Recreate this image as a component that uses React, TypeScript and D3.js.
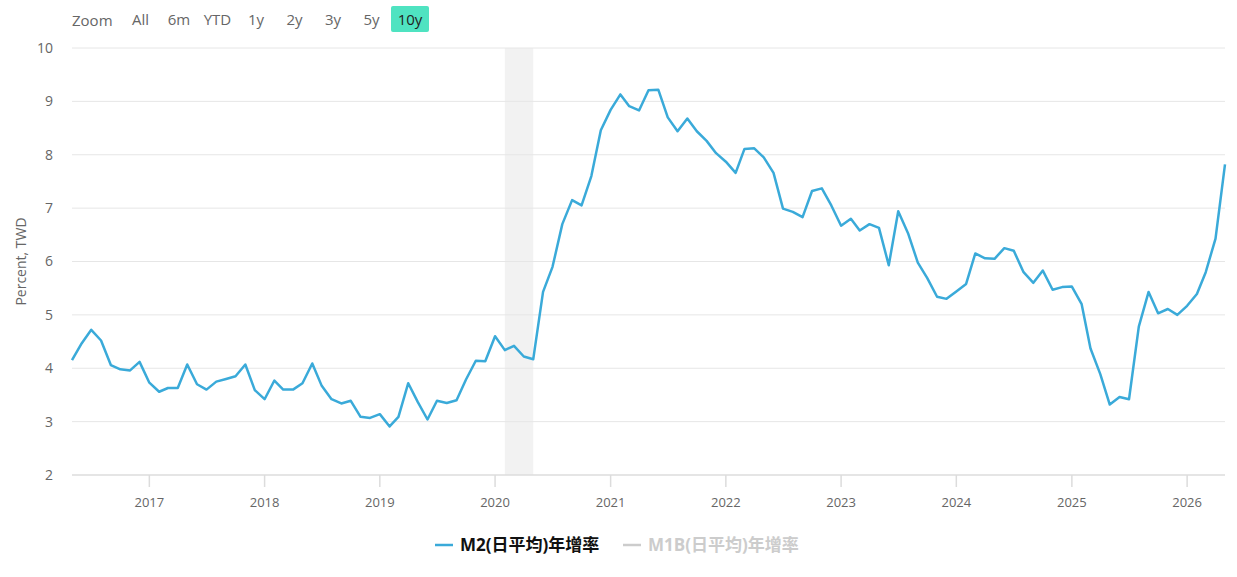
import React from "react";
import * as d3 from "d3";

// monthly M2 (daily average) YoY growth, %, May 2016 .. May 2026
const startMonth = "2016-05";
const m2Growth = [
  4.15, 4.47, 4.72, 4.52, 4.06, 3.98, 3.96, 4.12,
  3.73, 3.56, 3.63, 3.63, 4.07, 3.70, 3.60, 3.75, 3.80, 3.85, 4.07, 3.59,
  3.42, 3.77, 3.60, 3.60, 3.72, 4.09, 3.67, 3.42, 3.34, 3.39, 3.09, 3.07,
  3.14, 2.91, 3.09, 3.72, 3.37, 3.04, 3.39, 3.35, 3.40, 3.79, 4.14, 4.13,
  4.60, 4.34, 4.42, 4.22, 4.17, 5.43, 5.90, 6.70, 7.15, 7.05, 7.60, 8.46,
  8.84, 9.13, 8.91, 8.83, 9.21, 9.22, 8.70, 8.44, 8.68, 8.44, 8.26, 8.03,
  7.87, 7.66, 8.11, 8.12, 7.95, 7.66, 6.99, 6.93, 6.83, 7.32, 7.37, 7.05,
  6.67, 6.80, 6.58, 6.70, 6.63, 5.93, 6.94, 6.53, 5.98, 5.69, 5.34, 5.30,
  5.44, 5.58, 6.15, 6.06, 6.05, 6.25, 6.20, 5.80, 5.60, 5.83, 5.47, 5.52,
  5.53, 5.20, 4.37, 3.89, 3.32, 3.46, 3.42, 4.78, 5.43, 5.03, 5.11, 5.00,
  5.17, 5.39, 5.80, 6.43, 7.82,
];
const recession = ["2020-02-01", "2020-05-01"];
const yTicks = [2, 3, 4, 5, 6, 7, 8, 9, 10];
const xTickYears = [2017, 2018, 2019, 2020, 2021, 2022, 2023, 2024, 2025, 2026];
const rangeButtons = ["All", "6m", "YTD", "1y", "2y", "3y", "5y", "10y"];
const selectedRange = "10y";
const seriesNames = ["M2(日平均)年增率", "M1B(日平均)年增率"];

const W = 1237;
const H = 577;
const plot = { left: 72, right: 1225, top: 48, bottom: 475 };
const lineColor = "#3aaad9";
const font = "'Open Sans', 'Noto Sans CJK TC', sans-serif";

export default function App() {
  const parse = d3.timeParse("%Y-%m");
  const start = parse(startMonth)!;
  const data = m2Growth.map((v, i) => ({ date: d3.timeMonth.offset(start, i), value: v }));

  const x = d3
    .scaleTime()
    .domain([start, data[data.length - 1].date])
    .range([plot.left, plot.right]);
  const y = d3.scaleLinear().domain([2, 10]).range([plot.bottom, plot.top]);

  const line = d3
    .line<{ date: Date; value: number }>()
    .x((d) => x(d.date))
    .y((d) => y(d.value));

  const r0 = x(new Date(recession[0]));
  const r1 = x(new Date(recession[1]));

  return (
    <svg width={W} height={H} style={{ display: "block", fontFamily: font }}>
      <style>{`body{margin:0}`}</style>
      <rect width={W} height={H} fill="#fff" />

      {/* range selector */}
      <text x={72} y={26} fontSize={15} fill="#666">
        Zoom
      </text>
      {rangeButtons.map((b, i) => {
        const cx = 140.5 + i * 38.5;
        const sel = b === selectedRange;
        return (
          <g key={b}>
            {sel && <rect x={cx - 19} y={6} width={38} height={26} rx={2} fill="#4fe3c1" />}
            <text x={cx} y={25} fontSize={15} textAnchor="middle" fill={sel ? "#222" : "#666"}>
              {b}
            </text>
          </g>
        );
      })}

      {/* recession band */}
      <rect x={r0} y={plot.top} width={r1 - r0} height={plot.bottom - plot.top} fill="#f2f2f2" />

      {/* grid + y labels */}
      {yTicks.map((t) => (
        <g key={t}>
          {t !== 2 && (
            <line x1={plot.left} x2={plot.right} y1={y(t)} y2={y(t)} stroke="#e6e6e6" />
          )}
          <text x={53} y={y(t)} dy="0.35em" textAnchor="end" fontSize={14} fill="#666">
            {t}
          </text>
        </g>
      ))}
      <text
        transform={`translate(21,${(plot.top + plot.bottom) / 2}) rotate(-90)`}
        textAnchor="middle"
        dy="0.35em"
        fontSize={14}
        fill="#666"
      >
        Percent, TWD
      </text>

      {/* x axis */}
      <line x1={plot.left} x2={plot.right} y1={plot.bottom} y2={plot.bottom} stroke="#dcdcdc" strokeWidth={1.5} />
      {xTickYears.map((yr) => {
        const px = x(new Date(yr, 0, 1));
        return (
          <g key={yr}>
            <line x1={px} x2={px} y1={plot.bottom} y2={plot.bottom + 12} stroke="#dcdcdc" strokeWidth={1.5} />
            <text x={px} y={507} textAnchor="middle" fontSize={13} fill="#666">
              {yr}
            </text>
          </g>
        );
      })}

      {/* series */}
      <path d={line(data) ?? ""} fill="none" stroke={lineColor} strokeWidth={2.5} strokeLinejoin="round" />

      {/* legend */}
      <line x1={435} x2={453} y1={545} y2={545} stroke={lineColor} strokeWidth={2.5} />
      <text x={460} y={551} fontSize={17} fontWeight="bold" fill="#111">
        {seriesNames[0]}
      </text>
      <line x1={623} x2={641} y1={545} y2={545} stroke="#cccccc" strokeWidth={2.5} />
      <text x={648} y={551} fontSize={17} fontWeight="bold" fill="#cccccc">
        {seriesNames[1]}
      </text>
    </svg>
  );
}
